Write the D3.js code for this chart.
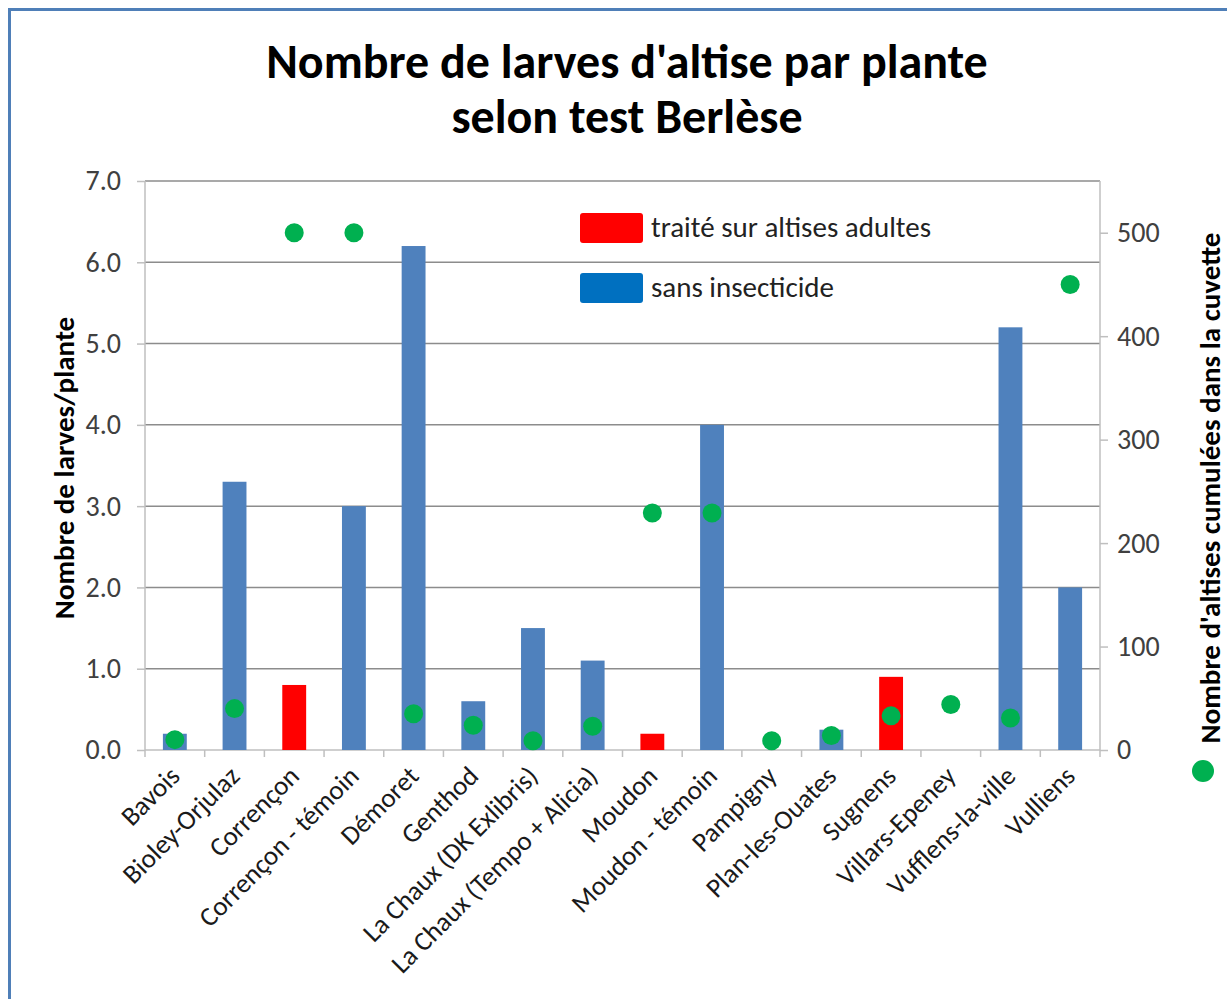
<!DOCTYPE html>
<html>
  <head>
    <meta charset="utf-8">
    <title>Larves d'altise</title>
    <script src="https://d3js.org/d3.v7.min.js"></script>
    <style>
      body { margin: 0; background: white; }
      text { font-family: Carlito, Lato, sans-serif; }
      .tick text { fill: #404040; font-size: 28px; }
      .grid line { stroke: #8c8c8c; stroke-width: 1.5; }
      .axis path, .axis line { stroke: #bfbfbf; stroke-width: 1.5; }
      .title { font-size: 48px; font-weight: bold; fill: #000; }
      .ytitle { font-size: 29px; font-weight: bold; fill: #000; }
      .legend text { font-size: 29px; fill: #222; }
    </style>
  </head>
  <body>
    <script>
      var categories = ['Bavois', 'Bioley-Orjulaz', 'Corrençon', 'Corrençon - témoin', 'Démoret', 'Genthod',
        'La Chaux (DK Exlibris)', 'La Chaux (Tempo + Alicia)', 'Moudon', 'Moudon - témoin', 'Pampigny',
        'Plan-les-Ouates', 'Sugnens', 'Villars-Epeney', 'Vufflens-la-ville', 'Vulliens'];
      // larves par plante (0 = pas de barre)
      var larves = [0.2, 3.3, 0.8, 3.0, 6.2, 0.6, 1.5, 1.1, 0.2, 4.0, 0, 0.25, 0.9, 0, 5.2, 2.0];
      // 't' = traité sur altises adultes, 's' = sans insecticide
      var traitement = ['s', 's', 't', 's', 's', 's', 's', 's', 't', 's', 's', 's', 't', 's', 's', 's'];
      // altises cumulées dans la cuvette (axe de droite)
      var altises = [10, 40, 500, 500, 35, 24, 9, 23, 229, 229, 9, 14, 33, 44, 31, 450];
      var leftTicks = [0, 1, 2, 3, 4, 5, 6, 7];
      var rightTicks = [0, 100, 200, 300, 400, 500];
      var legendItems = [
        { key: 't', label: 'traité sur altises adultes' },
        { key: 's', label: 'sans insecticide' }
      ];

      var W = 1227, H = 999;
      var m = { left: 145, right: 1100, top: 181, bottom: 750 };

      var svg = d3.select('body').append('svg').attr('width', W).attr('height', H);

      // cadre
      svg.append('rect').attr('x', 9.5).attr('y', 9.5).attr('width', W + 10).attr('height', H + 10)
        .attr('fill', 'white').attr('stroke', '#4f7fb8').attr('stroke-width', 3);

      var x = d3.scaleBand().domain(categories).range([m.left, m.right]);
      var y = d3.scaleLinear().domain([0, 7]).range([m.bottom, m.top]);
      var y2 = d3.scaleLinear().domain([0, 550]).range([m.bottom, m.top]);
      var color = d3.scaleOrdinal().domain(['t', 's']).range(['#ff0000', '#4f81bd']);
      var legendColor = d3.scaleOrdinal().domain(['t', 's']).range(['#ff0000', '#0070c0']);

      // titre
      svg.append('text').attr('class', 'title').attr('x', 627).attr('y', 78).attr('text-anchor', 'middle')
        .text("Nombre de larves d'altise par plante");
      svg.append('text').attr('class', 'title').attr('x', 627).attr('y', 133).attr('text-anchor', 'middle')
        .text('selon test Berlèse');

      // grille
      svg.append('g').attr('class', 'grid')
        .selectAll('line').data(leftTicks.slice(1)).enter().append('line')
        .attr('x1', m.left).attr('x2', m.right)
        .attr('y1', function(d){ return y(d) }).attr('y2', function(d){ return y(d) });

      // axe gauche
      var gl = svg.append('g').attr('class', 'axis').attr('transform', 'translate(' + m.left + ',0)')
        .call(d3.axisLeft(y).tickValues(leftTicks).tickFormat(d3.format('.1f')).tickSize(8).tickPadding(16));
      gl.select('.domain').attr('d', 'M0,' + m.top + 'V' + m.bottom);

      // axe droit
      var gr = svg.append('g').attr('class', 'axis').attr('transform', 'translate(' + m.right + ',0)')
        .call(d3.axisRight(y2).tickValues(rightTicks).tickSize(8).tickPadding(9));
      gr.select('.domain').attr('d', 'M0,' + m.top + 'V' + m.bottom);

      // axe x
      var gx = svg.append('g').attr('class', 'axis').attr('transform', 'translate(0,' + m.bottom + ')')
        .call(d3.axisBottom(x).tickSize(0).tickFormat(''));
      gx.select('.domain').attr('d', 'M' + m.left + ',0H' + m.right).attr('stroke', '#8c8c8c');
      gx.selectAll('.sep').data(categories.concat(['end'])).enter().append('line')
        .attr('x1', function(d, i){ return m.left + i * x.step() })
        .attr('x2', function(d, i){ return m.left + i * x.step() })
        .attr('y1', 0).attr('y2', 7).attr('stroke', '#8c8c8c');
      gx.selectAll('.lab').data(categories).enter().append('text')
        .attr('class', 'lab')
        .attr('transform', function(d){ return 'translate(' + (x(d) + x.step() / 2) + ',21) rotate(-45)' })
        .attr('text-anchor', 'end')
        .attr('dy', '0.35em')
        .attr('fill', '#1a1a1a')
        .style('font-size', '27px')
        .text(function(d){ return d });

      // barres
      var bw = x.step() * 0.4;
      svg.append('g').selectAll('rect').data(categories).enter().append('rect')
        .attr('x', function(d){ return x(d) + x.step() / 2 - bw / 2 })
        .attr('y', function(d, i){ return y(larves[i]) })
        .attr('width', bw)
        .attr('height', function(d, i){ return m.bottom - y(larves[i]) })
        .attr('fill', function(d, i){ return color(traitement[i]) });

      // points
      svg.append('g').selectAll('circle').data(categories).enter().append('circle')
        .attr('cx', function(d){ return x(d) + x.step() / 2 })
        .attr('cy', function(d, i){ return y2(altises[i]) })
        .attr('r', 9.5)
        .attr('fill', '#00b050');

      // légende
      var lg = svg.append('g').attr('class', 'legend');
      var li = lg.selectAll('g').data(legendItems).enter().append('g')
        .attr('transform', function(d, i){ return 'translate(580,' + (213 + i * 60) + ')' });
      li.append('rect').attr('width', 63).attr('height', 30).attr('rx', 3)
        .attr('fill', function(d){ return legendColor(d.key) });
      li.append('text').attr('x', 71).attr('y', 14).attr('dy', '0.35em')
        .text(function(d){ return d.label });

      // titres des axes
      svg.append('text').attr('class', 'ytitle').attr('text-anchor', 'middle')
        .attr('transform', 'translate(74,468) rotate(-90)').text('Nombre de larves/plante');
      svg.append('text').attr('class', 'ytitle').attr('text-anchor', 'middle')
        .attr('transform', 'translate(1220,488) rotate(-90)').text("Nombre d'altises cumulées dans la cuvette");
      svg.append('circle').attr('cx', 1203).attr('cy', 771).attr('r', 11).attr('fill', '#00b050');
    </script>
  </body>
</html>
